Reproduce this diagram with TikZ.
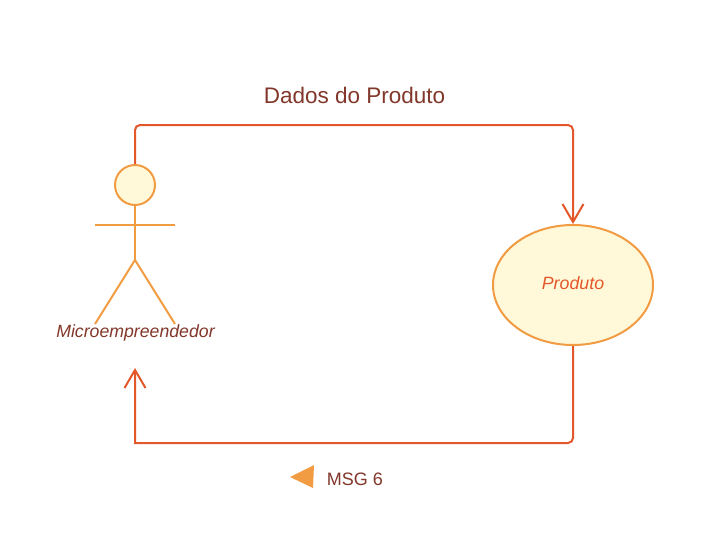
\documentclass[tikz,border=0pt]{standalone}
\usepackage{fontspec}
\setmainfont{Liberation Sans}
\usetikzlibrary{arrows.meta,shapes.geometric}
\definecolor{linkc}{HTML}{E4572B}
\definecolor{actorc}{HTML}{F19C43}
\definecolor{fillc}{HTML}{FFF9DA}
\definecolor{textc}{HTML}{82372A}
\tikzset{
 x=1pt,y=-1pt,
 actorline/.style={draw=actorc,line width=2pt},
 barb/.style={-{Straight Barb[length=18pt,width=21pt,line width=2pt]}},
 link/.style={draw=linkc,line width=2pt,barb},
 shapebox/.style={actorline,fill=fillc,inner sep=0pt},
 lab/.style={text=textc,inner sep=0pt},
}
\begin{document}
\begin{tikzpicture}
\useasboundingbox (0,0) rectangle (709,533);
\fill[white] (0,0) rectangle (709,533);
\node[shapebox,circle,minimum size=40pt] (head) at (135,185) {};
\node[shapebox,ellipse,minimum width=160pt,minimum height=120pt] (prod) at (573,285) {};
\node[text=linkc,inner sep=0pt,font=\fontsize{17.8}{20}\selectfont\itshape] (prodlab) at (573,283) {Produto};
\coordinate (hip) at (135,260);
\coordinate (armL) at (95,225);
\coordinate (armR) at (175,225);
\coordinate (footL) at (95,324);
\coordinate (footR) at (175,324);
\draw[actorline] (head.south) -- (hip);
\draw[actorline] (armL) -- (armR);
\draw[actorline] (footL) -- (hip) -- (footR);
\node[lab,font=\fontsize{17.7}{20}\selectfont\itshape] (actor) at (135.5,332.5) {Microempreendedor};
\node[lab,font=\fontsize{22.5}{24}\selectfont] (title) at (354.5,95.5) {Dados do Produto};
\node[lab,font=\fontsize{18}{20}\selectfont] (msg) at (355,479) {MSG 6};
\coordinate (free) at (135,368);
\path[link,rounded corners=5pt] (head.north) -- (135,125) -- (573,125) -- (prod.north);
\path[link] (prod.south) [rounded corners=5pt] -- (573,443) [sharp corners] -- (135,443) -- (free);
\fill[actorc] (290,477) -- (314,465) -- (313,488) -- cycle;
\end{tikzpicture}
\end{document}
